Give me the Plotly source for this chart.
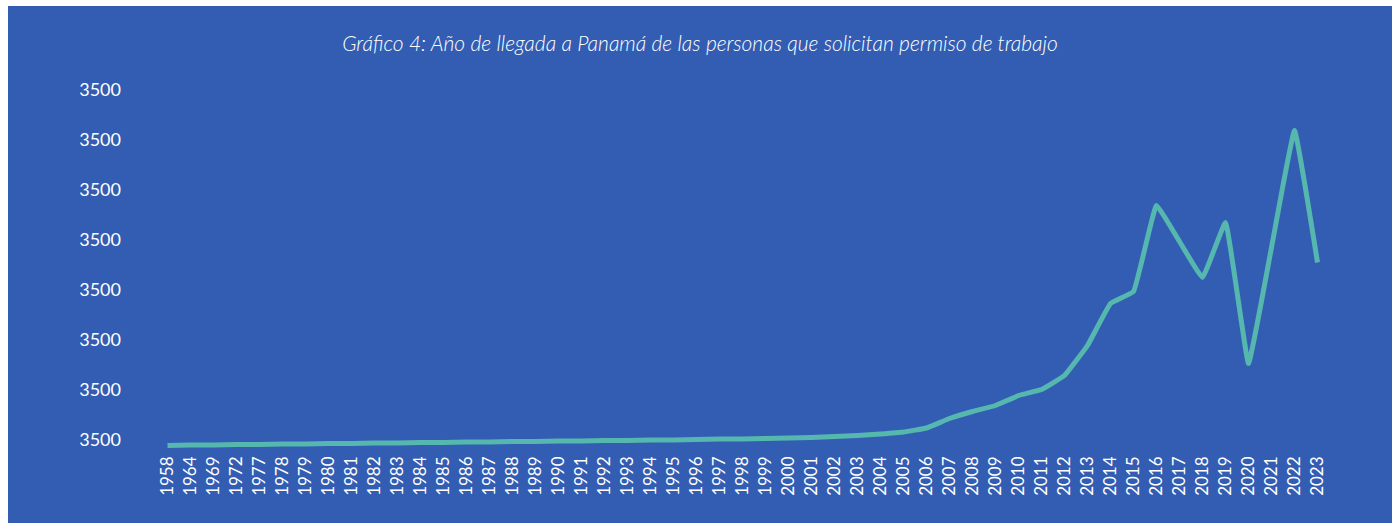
import plotly.graph_objects as go

years = ["1958", "1964", "1969", "1972"] + [str(y) for y in range(1977, 2024)]
solicitudes = [1, 2, 2, 3, 3, 4, 4, 5, 5, 6, 6, 7, 7, 8, 8, 9, 9, 10, 10, 11,
               11, 12, 12, 13, 14, 14, 15, 16, 17, 19,
               21, 24, 28, 36, 55, 69, 81, 101, 113, 141, 201, 285, 309,
               481, 409, 337, 447, 165, 397, 631, 367]
tick_values = [0, 100, 200, 300, 400, 500, 600, 700]
tick_text = ["3500"] * len(tick_values)
title_text = "Gráfico 4: Año de llegada a Panamá de las personas que solicitan permiso de trabajo"

BG = "#325DB3"
LINE = "#55B7AE"

fig = go.Figure()
fig.add_trace(go.Scatter(
    x=years, y=solicitudes, mode="lines",
    line=dict(color=LINE, width=5, shape="spline", smoothing=0.25),
    hoverinfo="x+y", showlegend=False,
))

fig.update_layout(
    width=1384, height=517,
    margin=dict(l=148, r=63, t=80, b=72, pad=0),
    paper_bgcolor=BG, plot_bgcolor=BG,
    title=dict(text=title_text, x=0.5, xanchor="center", y=1 - 38 / 517, yanchor="middle",
               font=dict(family="Lato", size=21, color="white", style="italic", weight=300)),
    font=dict(family="Lato", color="white"),
    xaxis=dict(type="category", range=[-0.5, 50.5], showgrid=False, zeroline=False,
               showline=False, ticks="", tickangle=-90, tickfont=dict(size=17, color="white"),
               ticklabelstandoff=1),
    yaxis=dict(range=[-10, 720], tickvals=tick_values, ticktext=tick_text, showgrid=False,
               zeroline=False, showline=False, ticks="", tickfont=dict(size=18, color="white"),
               ticklabelstandoff=34, ticklabelshift=-6),
)

fig.write_html("out.html", post_script="document.body.style.margin='6px 0 0 8px';")
